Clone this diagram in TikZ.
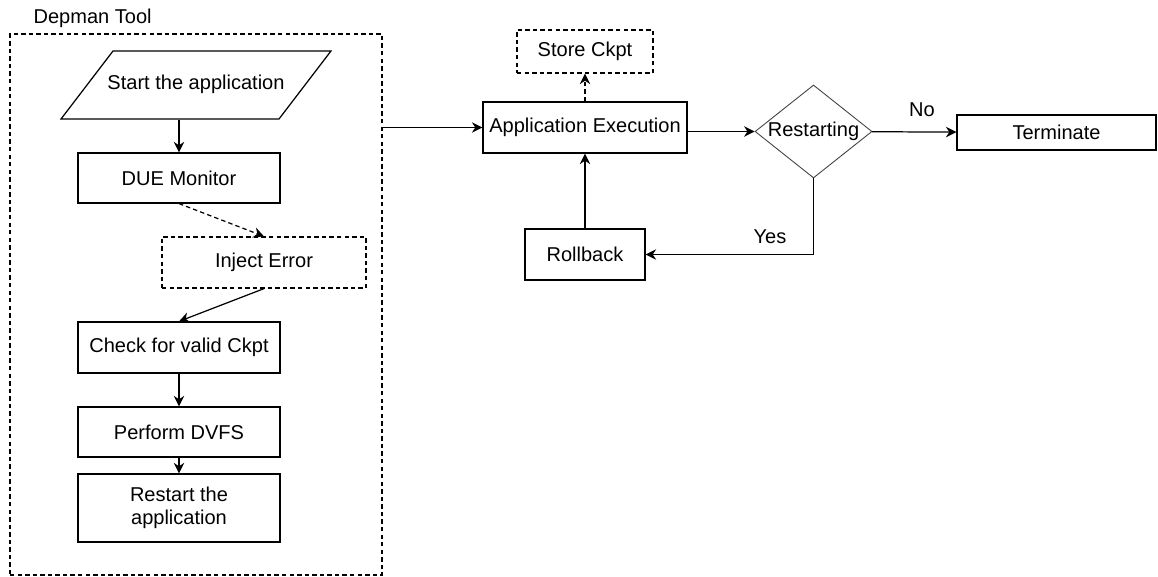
\documentclass[tikz,border=0pt]{standalone}
\usepackage{fontspec}
\setmainfont{Liberation Sans}
\usetikzlibrary{shapes.geometric,arrows.meta}

\begin{document}
\begin{tikzpicture}[x=0.02cm, y=-0.02cm, line width=0.7pt, >={Stealth[length=6pt,width=6pt]},
    font=\fontsize{11.4}{13}\selectfont,
    box/.style={rectangle, draw, align=center, inner sep=1pt, minimum width=4.04cm, minimum height=1cm},
    dline/.style={dash pattern=on 2.5pt off 1.8pt},
    dbox/.style={box, dline}]
        \useasboundingbox (0, 0) rectangle (1158, 577);
        \node[anchor=west, inner sep=0pt] (t) at (33, 18) {Depman Tool};
        \node[rectangle, draw, dline, minimum width=7.44cm, minimum height=10.82cm] (d0) at (196, 304.5) {};
        \node[draw, trapezium, trapezium left angle=52.6, trapezium right angle=127.4, text height=8pt, text depth=2.5pt, inner xsep=-0.11cm, inner ysep=0.495cm] (d1) at (196, 85) {Start the application};
        \node[box] (d2) at (179, 178) {DUE Monitor};
        \node[dbox, minimum width=4.08cm, minimum height=1.02cm] (d3) at (264, 262.5) {Inject Error};
        \node[box, minimum height=1.02cm] (d4) at (179, 347.5) {Check for valid Ckpt};
        \node[box] (d5) at (179, 432) {Perform DVFS};
        \node[box, minimum height=1.36cm] (d6) at (179, 508) {Restart the\\application};
        \draw[->] (d1.south -| d2.north) to (d2.north);
        \draw[->, dline] (d2.south) to (d3.north);
        \draw[->] (d3.south) to (d4.north);
        \draw[->] (d4) to (d5);
        \draw[->] (d5) to (d6);
        \node[box, minimum width=4.08cm, minimum height=1.02cm] (e1) at (585, 127.5) {Application Execution};
        \node[dbox, minimum width=2.72cm, minimum height=0.86cm] (e2) at (585, 51.5) {Store Ckpt};
        \node[diamond, draw=black!75, line width=0.5pt, inner sep=0pt, aspect=1.26, minimum width=2.34cm, minimum height=1.86cm] (e3) at (813.5, 131.5) {Restarting};
        \node[box, minimum width=3.98cm, minimum height=0.7cm] (e4) at (1056.5, 132.5) {Terminate};
        \node[box, minimum width=2.4cm, minimum height=1.02cm] (e5) at (585, 254.5) {Rollback};
        \draw[->] (d0.east |- e1.west) to (e1.west);
        \draw[->, dline] (e1) to (e2);
        \draw[->] (e1.east |- e3.west) to (e3.west);
        \draw[->] (e3) to (e4);
        \draw[->] (e3.south) |- (e5.east);
        \draw[->] (e5) to (e1);
        \node (n1) at (922, 110) {No};
        \node (n2) at (770, 237) {Yes};
    \end{tikzpicture}
\end{document}
